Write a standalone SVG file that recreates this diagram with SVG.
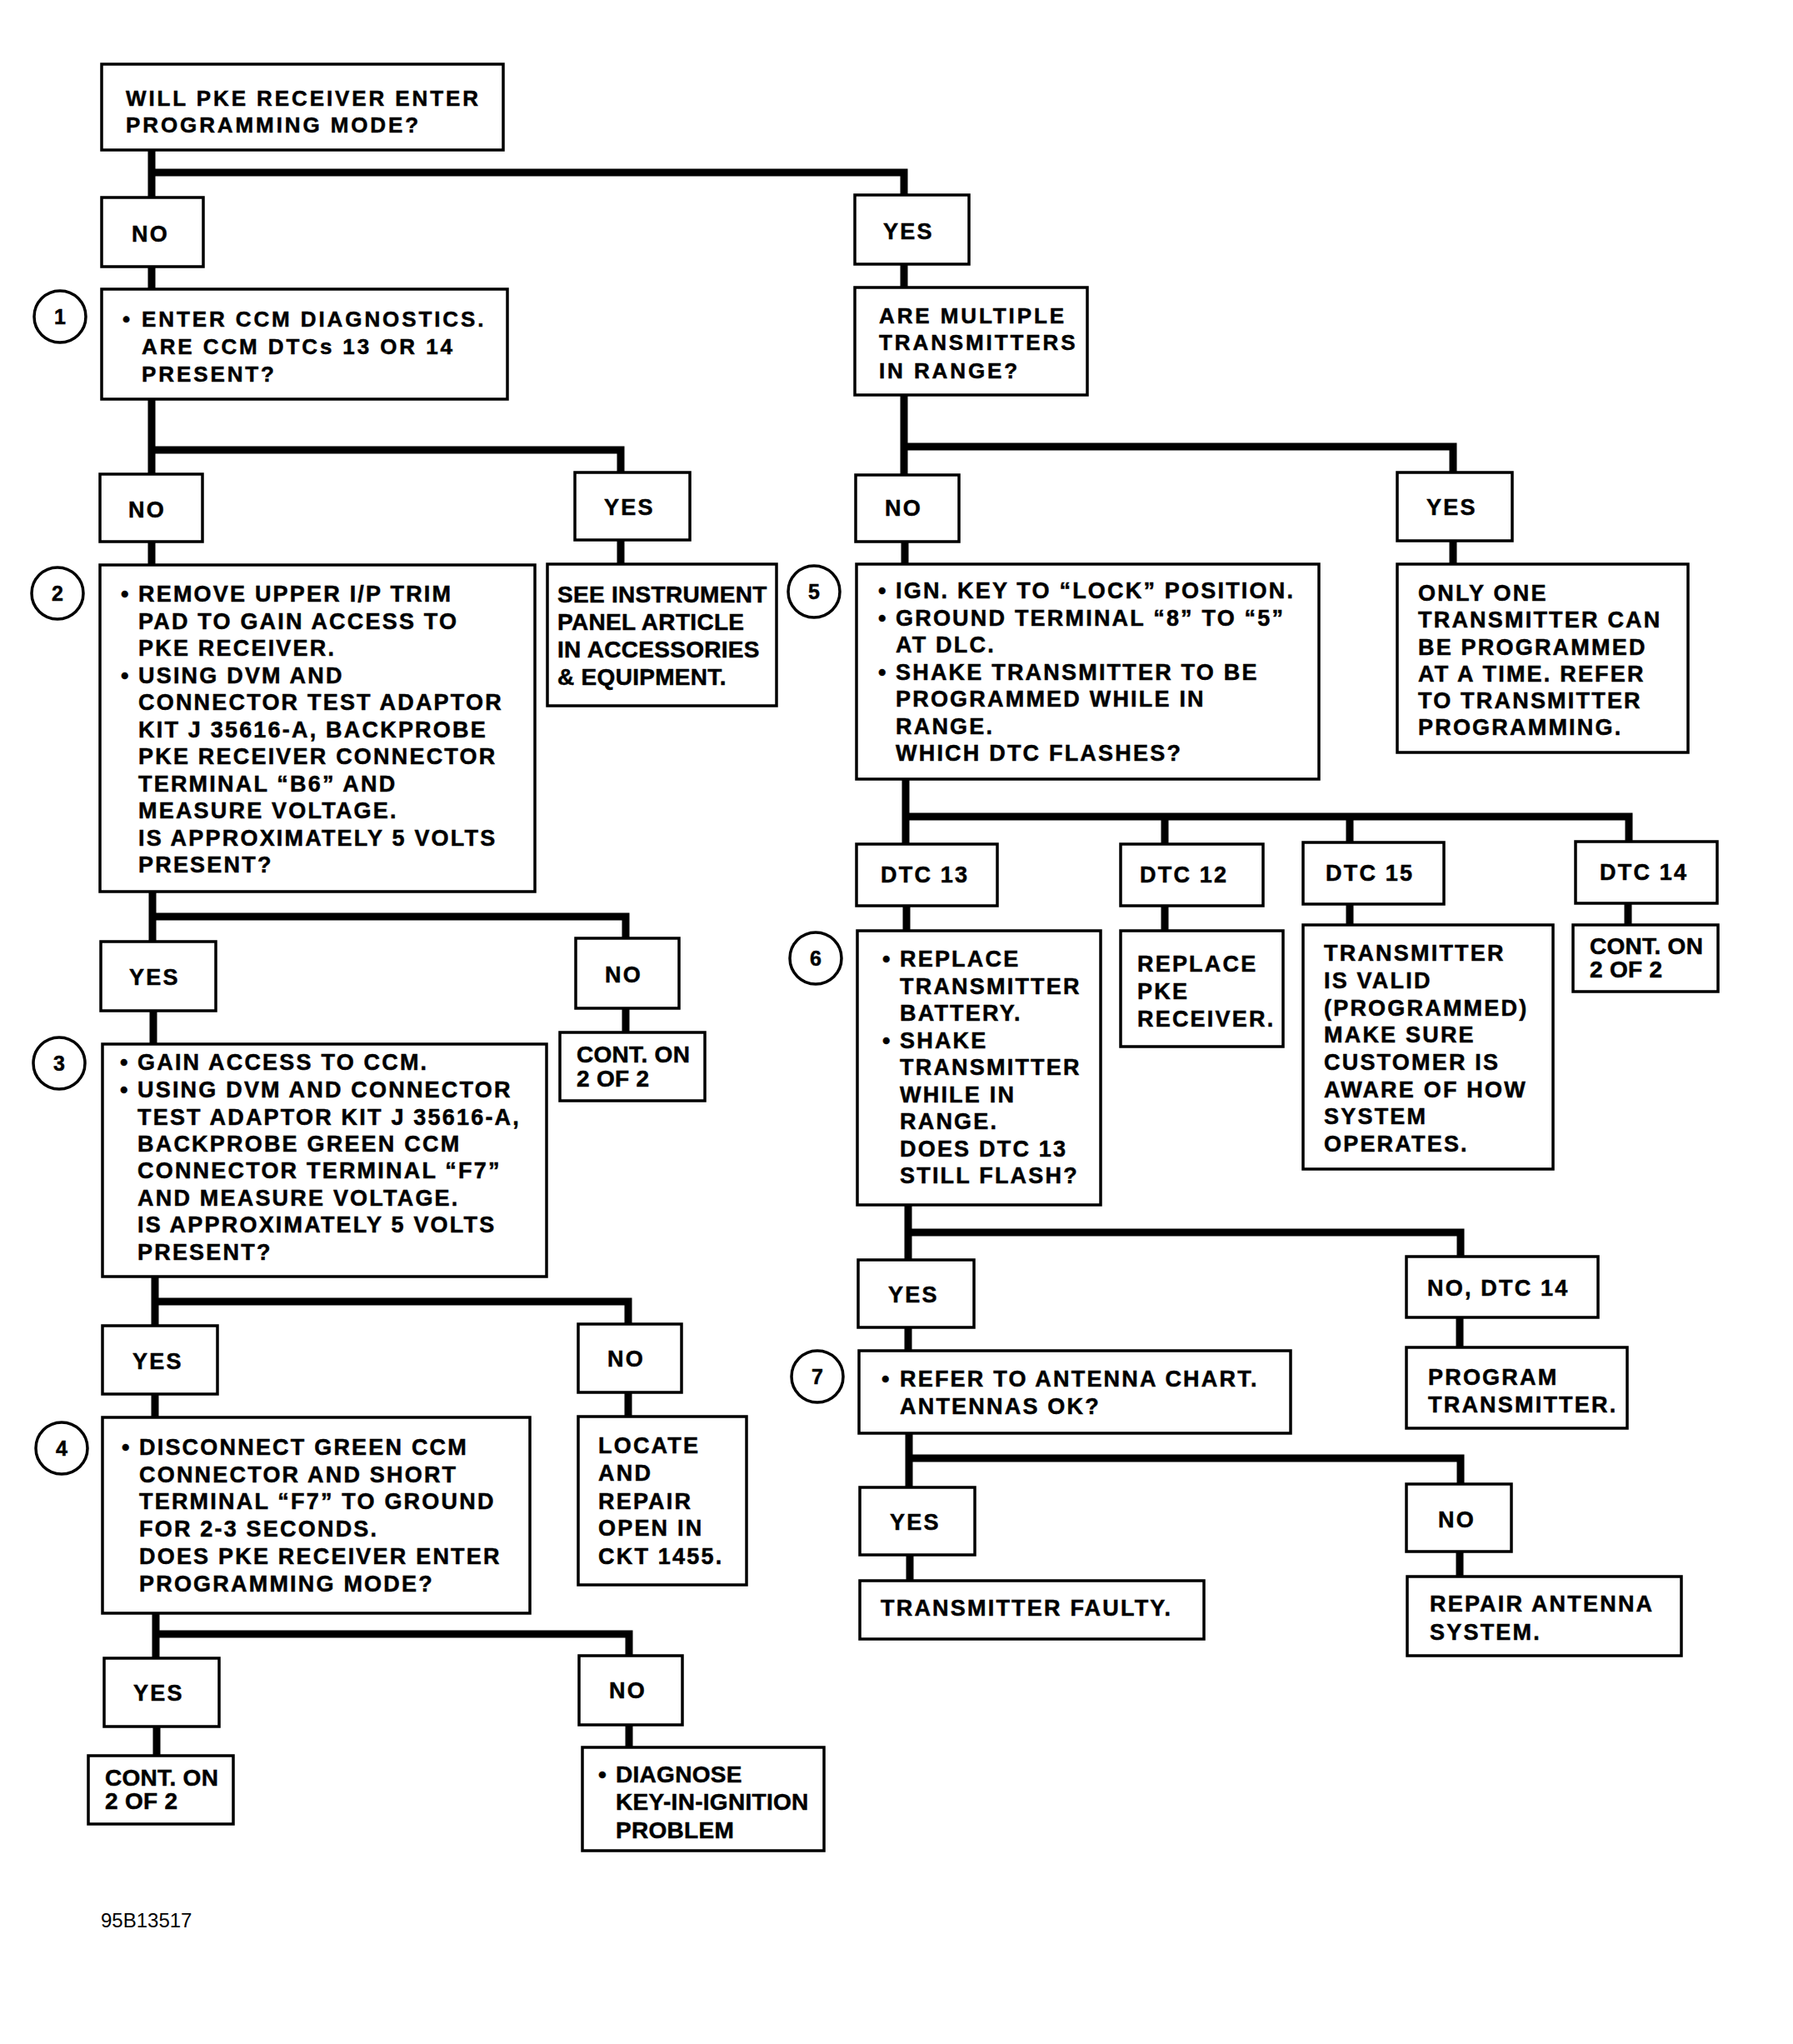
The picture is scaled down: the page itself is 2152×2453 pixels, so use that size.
<svg xmlns="http://www.w3.org/2000/svg" width="2152" height="2453" viewBox="0 0 2152 2453">
<style>
.b{fill:#fff;stroke:#000;stroke-width:3.5}
.c{fill:none;stroke:#000;stroke-width:9;stroke-linecap:square;stroke-linejoin:miter}
text{font-family:'Liberation Sans',Arial,Helvetica,sans-serif;font-weight:bold;fill:#000;stroke:#000;stroke-width:0.5}
.t{font-size:27px;letter-spacing:2.2px}
.tn{font-size:26px;letter-spacing:2.9px}
.p{font-size:28px;letter-spacing:0.3px}
.n{font-size:25px;text-anchor:middle}
.lbl{font-size:24px;font-weight:normal;stroke:none}
</style>
<rect width="2152" height="2453" fill="#fff"/>
<g id="connectors" class="c">
<path d="M182,180V237 M182,207H1085V234"/>
<path d="M182,320V347"/>
<path d="M182,479V569 M182,540H745V567"/>
<path d="M182,650V678"/>
<path d="M745,648V677"/>
<path d="M183,1070V1130 M183,1100H751V1126"/>
<path d="M184,1213V1253"/>
<path d="M751,1210V1239"/>
<path d="M186,1532V1591 M186,1562H754V1589"/>
<path d="M186,1673V1701"/>
<path d="M754,1671V1700"/>
<path d="M187,1936V1990 M187,1961H755V1987"/>
<path d="M188,2072V2107"/>
<path d="M755,2070V2097"/>
<path d="M1085,317V345"/>
<path d="M1085,474V570 M1085,536H1744V567"/>
<path d="M1086,650V677"/>
<path d="M1744,649V677"/>
<path d="M1087,935V1013 M1087,980H1955V1010 M1398,980V1013 M1620,980V1011"/>
<path d="M1088,1087V1117"/>
<path d="M1398,1087V1117"/>
<path d="M1620,1085V1110"/>
<path d="M1954,1084V1110"/>
<path d="M1090,1446V1512 M1090,1479H1753V1508"/>
<path d="M1090,1593V1621"/>
<path d="M1752,1581V1617"/>
<path d="M1091,1720V1785 M1091,1750H1753V1781"/>
<path d="M1092,1866V1897"/>
<path d="M1752,1862V1892"/>
</g>

<g id="start">
<rect class="b" x="122" y="77" width="482" height="103"/>
<text class="tn"><tspan x="151" y="127">WILL PKE RECEIVER ENTER</tspan><tspan x="151" y="159">PROGRAMMING MODE?</tspan></text>
</g>
<g id="no1">
<rect class="b" x="122" y="237" width="122" height="83"/>
<text class="t" x="158" y="290">NO</text>
</g>
<g id="step1">
<circle class="b" cx="72" cy="380" r="31"/>
<text class="n" x="72" y="389">1</text>
<rect class="b" x="122" y="347" width="487" height="132"/>
<text class="tn" x="147" y="392">•</text>
<text class="tn"><tspan x="170" y="392">ENTER CCM DIAGNOSTICS.</tspan><tspan x="170" y="425">ARE CCM DTCs 13 OR 14</tspan><tspan x="170" y="458">PRESENT?</tspan></text>
</g>
<g id="no2">
<rect class="b" x="120" y="569" width="123" height="81"/>
<text class="t" x="154" y="621">NO</text>
</g>
<g id="yes2">
<rect class="b" x="690" y="567" width="138" height="81"/>
<text class="t" x="725" y="618">YES</text>
</g>
<g id="step2">
<circle class="b" cx="69" cy="712" r="31"/>
<text class="n" x="69" y="721">2</text>
<rect class="b" x="120" y="678" width="522" height="392"/>
<text class="t" x="145" y="722">•</text>
<text class="t" x="145" y="819.5">•</text>
<text class="t"><tspan x="166" y="722">REMOVE UPPER I/P TRIM</tspan><tspan x="166" y="754.5">PAD TO GAIN ACCESS TO</tspan><tspan x="166" y="787">PKE RECEIVER.</tspan><tspan x="166" y="819.5">USING DVM AND</tspan><tspan x="166" y="852">CONNECTOR TEST ADAPTOR</tspan><tspan x="166" y="884.5">KIT J 35616-A, BACKPROBE</tspan><tspan x="166" y="917">PKE RECEIVER CONNECTOR</tspan><tspan x="166" y="949.5">TERMINAL “B6” AND</tspan><tspan x="166" y="982">MEASURE VOLTAGE.</tspan><tspan x="166" y="1014.5">IS APPROXIMATELY 5 VOLTS</tspan><tspan x="166" y="1047">PRESENT?</tspan></text>
</g>
<g id="see-instrument">
<rect class="b" x="657" y="677" width="275" height="170"/>
<text class="p"><tspan x="669" y="723">SEE INSTRUMENT</tspan><tspan x="669" y="756">PANEL ARTICLE</tspan><tspan x="669" y="789">IN ACCESSORIES</tspan><tspan x="669" y="822">&amp; EQUIPMENT.</tspan></text>
</g>
<g id="yes3">
<rect class="b" x="121" y="1130" width="138" height="83"/>
<text class="t" x="155" y="1182">YES</text>
</g>
<g id="no3">
<rect class="b" x="691" y="1126" width="124" height="84"/>
<text class="t" x="726" y="1179">NO</text>
</g>
<g id="cont1">
<rect class="b" x="672" y="1239" width="174" height="82"/>
<text class="p"><tspan x="692" y="1275">CONT. ON</tspan><tspan x="692" y="1304">2 OF 2</tspan></text>
</g>
<g id="step3">
<circle class="b" cx="71" cy="1276" r="31"/>
<text class="n" x="71" y="1285">3</text>
<rect class="b" x="123" y="1253" width="533" height="279"/>
<text class="t" x="144" y="1284">•</text>
<text class="t" x="144" y="1317">•</text>
<text class="t"><tspan x="165" y="1284">GAIN ACCESS TO CCM.</tspan><tspan x="165" y="1317">USING DVM AND CONNECTOR</tspan><tspan x="165" y="1349.5">TEST ADAPTOR KIT J 35616-A,</tspan><tspan x="165" y="1382">BACKPROBE GREEN CCM</tspan><tspan x="165" y="1414">CONNECTOR TERMINAL “F7”</tspan><tspan x="165" y="1446.5">AND MEASURE VOLTAGE.</tspan><tspan x="165" y="1479">IS APPROXIMATELY 5 VOLTS</tspan><tspan x="165" y="1511.5">PRESENT?</tspan></text>
</g>
<g id="yes4">
<rect class="b" x="123" y="1591" width="138" height="82"/>
<text class="t" x="159" y="1643">YES</text>
</g>
<g id="no4">
<rect class="b" x="694" y="1589" width="124" height="82"/>
<text class="t" x="729" y="1640">NO</text>
</g>
<g id="step4">
<circle class="b" cx="74" cy="1738" r="31"/>
<text class="n" x="74" y="1747">4</text>
<rect class="b" x="123" y="1701" width="513" height="235"/>
<text class="t" x="146" y="1746">•</text>
<text class="t"><tspan x="167" y="1746">DISCONNECT GREEN CCM</tspan><tspan x="167" y="1778.5">CONNECTOR AND SHORT</tspan><tspan x="167" y="1811">TERMINAL “F7” TO GROUND</tspan><tspan x="167" y="1844">FOR 2-3 SECONDS.</tspan><tspan x="167" y="1877">DOES PKE RECEIVER ENTER</tspan><tspan x="167" y="1910">PROGRAMMING MODE?</tspan></text>
</g>
<g id="locate">
<rect class="b" x="694" y="1700" width="202" height="202"/>
<text class="t"><tspan x="718" y="1744">LOCATE</tspan><tspan x="718" y="1777">AND</tspan><tspan x="718" y="1810.5">REPAIR</tspan><tspan x="718" y="1843">OPEN IN</tspan><tspan x="718" y="1876.5">CKT 1455.</tspan></text>
</g>
<g id="yes5">
<rect class="b" x="125" y="1990" width="138" height="82"/>
<text class="t" x="160" y="2041">YES</text>
</g>
<g id="no5">
<rect class="b" x="695" y="1987" width="124" height="83"/>
<text class="t" x="731" y="2038">NO</text>
</g>
<g id="cont2">
<rect class="b" x="106" y="2107" width="174" height="82"/>
<text class="p"><tspan x="126" y="2143">CONT. ON</tspan><tspan x="126" y="2171">2 OF 2</tspan></text>
</g>
<g id="diagnose">
<rect class="b" x="699" y="2097" width="290" height="124"/>
<text class="p" x="718" y="2138.5">•</text>
<text class="p"><tspan x="739" y="2138.5">DIAGNOSE</tspan><tspan x="739" y="2172">KEY-IN-IGNITION</tspan><tspan x="739" y="2206">PROBLEM</tspan></text>
</g>

<g id="yes1">
<rect class="b" x="1026" y="234" width="137" height="83"/>
<text class="t" x="1060" y="287">YES</text>
</g>
<g id="multiple">
<rect class="b" x="1026" y="345" width="279" height="129"/>
<text class="tn"><tspan x="1055" y="387.5">ARE MULTIPLE</tspan><tspan x="1055" y="420">TRANSMITTERS</tspan><tspan x="1055" y="453.5">IN RANGE?</tspan></text>
</g>
<g id="no-r">
<rect class="b" x="1027" y="570" width="124" height="80"/>
<text class="t" x="1062" y="619">NO</text>
</g>
<g id="yes-r">
<rect class="b" x="1677" y="567" width="138" height="82"/>
<text class="t" x="1712" y="618">YES</text>
</g>
<g id="step5">
<circle class="b" cx="977" cy="710" r="31"/>
<text class="n" x="977" y="719">5</text>
<rect class="b" x="1028" y="677" width="555" height="258"/>
<text class="t" x="1054" y="718">•</text>
<text class="t" x="1054" y="750.5">•</text>
<text class="t" x="1054" y="815.5">•</text>
<text class="t"><tspan x="1075" y="718">IGN. KEY TO “LOCK” POSITION.</tspan><tspan x="1075" y="750.5">GROUND TERMINAL “8” TO “5”</tspan><tspan x="1075" y="783">AT DLC.</tspan><tspan x="1075" y="815.5">SHAKE TRANSMITTER TO BE</tspan><tspan x="1075" y="848">PROGRAMMED WHILE IN</tspan><tspan x="1075" y="880.5">RANGE.</tspan><tspan x="1075" y="913">WHICH DTC FLASHES?</tspan></text>
</g>
<g id="only-one">
<rect class="b" x="1677" y="677" width="349" height="226"/>
<text class="t"><tspan x="1702" y="721">ONLY ONE</tspan><tspan x="1702" y="753">TRANSMITTER CAN</tspan><tspan x="1702" y="785.5">BE PROGRAMMED</tspan><tspan x="1702" y="817.5">AT A TIME. REFER</tspan><tspan x="1702" y="849.5">TO TRANSMITTER</tspan><tspan x="1702" y="881.5">PROGRAMMING.</tspan></text>
</g>
<g id="dtc13">
<rect class="b" x="1028" y="1013" width="169" height="74"/>
<text class="t" x="1057" y="1059">DTC 13</text>
</g>
<g id="dtc12">
<rect class="b" x="1345" y="1013" width="171" height="74"/>
<text class="t" x="1368" y="1059">DTC 12</text>
</g>
<g id="dtc15">
<rect class="b" x="1564" y="1011" width="169" height="74"/>
<text class="t" x="1591" y="1057">DTC 15</text>
</g>
<g id="dtc14">
<rect class="b" x="1891" y="1010" width="170" height="74"/>
<text class="t" x="1920" y="1056">DTC  14</text>
</g>
<g id="step6">
<circle class="b" cx="979" cy="1150" r="31"/>
<text class="n" x="979" y="1159">6</text>
<rect class="b" x="1029" y="1117" width="292" height="329"/>
<text class="t" x="1059" y="1160">•</text>
<text class="t" x="1059" y="1257.5">•</text>
<text class="t"><tspan x="1080" y="1160">REPLACE</tspan><tspan x="1080" y="1192.5">TRANSMITTER</tspan><tspan x="1080" y="1225">BATTERY.</tspan><tspan x="1080" y="1257.5">SHAKE</tspan><tspan x="1080" y="1290">TRANSMITTER</tspan><tspan x="1080" y="1322.5">WHILE IN</tspan><tspan x="1080" y="1355">RANGE.</tspan><tspan x="1080" y="1387.5">DOES DTC 13</tspan><tspan x="1080" y="1420">STILL FLASH?</tspan></text>
</g>
<g id="replace-pke">
<rect class="b" x="1345" y="1117" width="195" height="139"/>
<text class="t"><tspan x="1365" y="1166">REPLACE</tspan><tspan x="1365" y="1199">PKE</tspan><tspan x="1365" y="1232">RECEIVER.</tspan></text>
</g>
<g id="valid">
<rect class="b" x="1564" y="1110" width="300" height="293"/>
<text class="t"><tspan x="1589" y="1153">TRANSMITTER</tspan><tspan x="1589" y="1186">IS VALID</tspan><tspan x="1589" y="1218.5">(PROGRAMMED)</tspan><tspan x="1589" y="1251">MAKE SURE</tspan><tspan x="1589" y="1284">CUSTOMER IS</tspan><tspan x="1589" y="1317">AWARE OF HOW</tspan><tspan x="1589" y="1349">SYSTEM</tspan><tspan x="1589" y="1381.5">OPERATES.</tspan></text>
</g>
<g id="cont3">
<rect class="b" x="1888" y="1110" width="174" height="80"/>
<text class="p"><tspan x="1908" y="1145">CONT. ON</tspan><tspan x="1908" y="1173">2 OF 2</tspan></text>
</g>
<g id="yes6">
<rect class="b" x="1030" y="1512" width="139" height="81"/>
<text class="t" x="1066" y="1563">YES</text>
</g>
<g id="no-dtc14">
<rect class="b" x="1688" y="1508" width="230" height="73"/>
<text class="t" x="1713" y="1555">NO, DTC 14</text>
</g>
<g id="step7">
<circle class="b" cx="981" cy="1652" r="31"/>
<text class="n" x="981" y="1661">7</text>
<rect class="b" x="1031" y="1621" width="518" height="99"/>
<text class="t" x="1058" y="1664">•</text>
<text class="t"><tspan x="1080" y="1664">REFER TO ANTENNA CHART.</tspan><tspan x="1080" y="1697">ANTENNAS OK?</tspan></text>
</g>
<g id="program">
<rect class="b" x="1688" y="1617" width="265" height="97"/>
<text class="t"><tspan x="1714" y="1662">PROGRAM</tspan><tspan x="1714" y="1695">TRANSMITTER.</tspan></text>
</g>
<g id="yes7">
<rect class="b" x="1032" y="1785" width="138" height="81"/>
<text class="t" x="1068" y="1836">YES</text>
</g>
<g id="no7">
<rect class="b" x="1688" y="1781" width="126" height="81"/>
<text class="t" x="1726" y="1833">NO</text>
</g>
<g id="faulty">
<rect class="b" x="1032" y="1897" width="413" height="70"/>
<text class="t" x="1057" y="1939">TRANSMITTER FAULTY.</text>
</g>
<g id="repair">
<rect class="b" x="1689" y="1892" width="329" height="95"/>
<text class="t"><tspan x="1716" y="1934">REPAIR ANTENNA</tspan><tspan x="1716" y="1967.5">SYSTEM.</tspan></text>
</g>
<text class="lbl" x="121" y="2313">95B13517</text>
</svg>
